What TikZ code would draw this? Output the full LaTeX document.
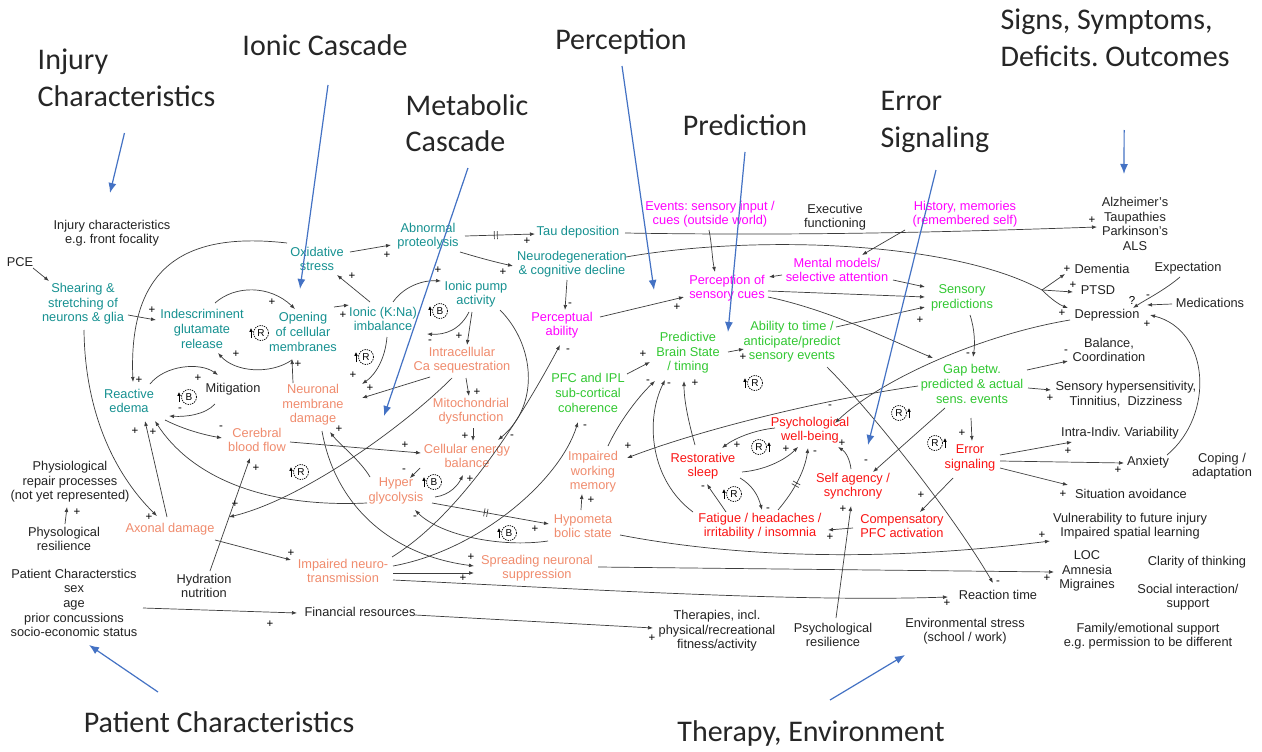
\documentclass[tikz,border=0pt]{standalone}
\usepackage{fontspec}
\setmainfont{Liberation Sans}
\newfontfamily\ttlfont{Carlito}
\usetikzlibrary{calc,arrows.meta,decorations.markings}
\definecolor{tlc}{RGB}{22,145,145}
\definecolor{sac}{RGB}{240,140,110}
\definecolor{mgc}{RGB}{255,0,255}
\definecolor{grc}{RGB}{50,200,50}
\definecolor{rdc}{RGB}{250,20,20}
\definecolor{txc}{RGB}{35,35,35}
\definecolor{lkc}{RGB}{60,60,60}
\definecolor{blc}{RGB}{68,114,196}
\newcounter{polc}
\newcommand\pol[3]{\stepcounter{polc}\node[polsign] (pol\number\value{polc}) at (#1,#2) {#3};}
\newcommand\lpsym[5]{\node[lpc] (#1) at (#2,#3) {#4};
  \draw[lpa] ($(#1)+(#5,5)$) -- ($(#1)+(#5,-5)$);}
\tikzset{
 nd/.style={font=\fontsize{12.8}{14.6}\selectfont, align=center, inner sep=1.5pt, text=txc},
 ndT/.style={nd,text=tlc}, ndS/.style={nd,text=sac}, ndM/.style={nd,text=mgc},
 ndG/.style={nd,text=grc}, ndR/.style={nd,text=rdc},
 arr/.style={draw=lkc, line width=0.7pt, -{Latex[length=5pt,width=3.8pt]}},
 ln/.style={draw=lkc, line width=0.7pt},
 polsign/.style={font=\fontsize{11.5}{11.5}\selectfont, inner sep=0pt, text=black},
 ttl/.style={font=\ttlfont\fontsize{30}{36.5}\selectfont, inner sep=1.5pt, text=black!85},
 barr/.style={draw=blc, line width=1.2pt, -{Latex[length=10pt,width=8pt]}},
 lpc/.style={circle, draw=black, dash pattern=on 1.4pt off 1pt, line width=0.7pt, minimum size=15pt, inner sep=0pt, font=\fontsize{10}{10}\selectfont},
 lpa/.style={draw=black, line width=0.9pt, -{Latex[length=3.8pt,width=3.8pt]}},
 dly/.style={postaction={decorate, decoration={markings, mark=at position #1 with {\draw[lkc, line width=0.7pt,-] (-1.5pt,-4pt)--(-1.5pt,4pt) (1.5pt,-4pt)--(1.5pt,4pt);}}}},
}
\begin{document}
\frenchspacing
\begin{tikzpicture}[x=1pt,y=-1pt]
\useasboundingbox (0,0) rectangle (1262,752);
\fill[white] (0,0) rectangle (1262,752);
% titles
\node[ttl, anchor=west, align=left] (tinj) at (36,78) {Injury\\Characteristics};
\node[ttl] (tion) at (325,45) {Ionic Cascade};
\node[ttl, anchor=west, align=left] (tmet) at (404,123) {Metabolic\\Cascade};
\node[ttl] (tper) at (621,42) {Perception};
\node[ttl] (tpred) at (745,125) {Prediction};
\node[ttl, anchor=west, align=left] (terr) at (879,122) {Error\\Signaling};
\node[ttl, anchor=west, align=left] (tsig) at (999,38) {Signs, Symptoms,\\Deficits. Outcomes};
\node[ttl] (tpat) at (219,722) {Patient Characteristics};
\node[ttl] (tthe) at (811,733) {Therapy, Environment};
% black nodes
\node[nd] (injc) at (112,233) {Injury characteristics\\e.g. front focality};
\node[nd] (pce) at (20,262) {PCE};
\node[nd] (mitig) at (233,389) {Mitigation};
\node[nd] (phrep) at (70,482) {Physiological\\repair processes\\(not yet represented)};
\node[nd] (phres) at (64,539) {Physological\\resilience};
\node[nd] (patc) at (74,603) {Patient Characterstics\\sex\\age\\prior concussions\\socio-economic status};
\node[nd] (hydr) at (204,586) {Hydration\\nutrition};
\node[nd] (finr) at (360,612) {Financial resources};
\node[nd] (ther) at (717,631) {Therapies, incl.\\physical/recreational\\fitness/activity};
\node[nd] (psres) at (833,635) {Psychological\\resilience};
\node[nd] (envs) at (965,631) {Environmental stress\\(school / work)};
\node[nd] (react) at (998,595) {Reaction time};
\node[nd] (execf) at (835,217) {Executive\\functioning};
\node[nd] (alz) at (1135,224) {Alzheimer's\\Taupathies\\Parkinson's\\ALS};
\node[nd] (dem) at (1102,269) {Dementia};
\node[nd] (ptsd) at (1098,290) {PTSD};
\node[nd] (depr) at (1107,315) {Depression};
\node[nd] (expc) at (1188,268) {Expectation};
\node[nd] (medi) at (1210,303) {Medications};
\node[nd] (bal) at (1109,350) {Balance,\\Coordination};
\node[nd] (senh) at (1126,394) {Sensory hypersensitivity,\\Tinnitius,\ \ Dizziness};
\node[nd] (intra) at (1120,433) {Intra-Indiv. Variability};
\node[nd] (anx) at (1148,462) {Anxiety};
\node[nd] (sitav) at (1131,494) {Situation avoidance};
\node[nd] (coping) at (1222,466) {Coping /\\adaptation};
\node[nd] (vuln) at (1130,526) {Vulnerability to future injury\\Impaired spatial learning};
\node[nd] (loc) at (1087,571) {LOC\\Amnesia\\Migraines};
\node[nd] (clar) at (1197,562) {Clarity of thinking};
\node[nd] (soc) at (1188,597) {Social interaction/\\support};
\node[nd] (fam) at (1148,636) {Family/emotional support\\e.g. permission to be different};
% teal
\node[ndT] (shear) at (83,304) {Shearing \&\\stretching of\\neurons \& glia};
\node[ndT] (indis) at (202,329) {Indescriminent\\glutamate\\release};
\node[ndT] (openc) at (303,332) {Opening\\of cellular\\membranes};
\node[ndT] (oxid) at (317,259) {Oxidative\\stress};
\node[ndT] (abnp) at (428,236) {Abnormal\\proteolysis};
\node[ndT] (tau) at (578,232) {Tau deposition};
\node[ndT] (neurod) at (572,264) {Neurodegeneration\\\& cognitive decline};
\node[ndT] (ionic) at (383,319) {Ionic (K:Na)\\imbalance};
\node[ndT] (ipump) at (476,294) {Ionic pump\\activity};
\node[ndT] (redema) at (129,401) {Reactive\\edema};
% salmon
\node[ndS] (nmd) at (313,405) {Neuronal\\membrane\\damage};
\node[ndS] (caseq) at (462,360) {Intracellular\\Ca sequestration};
\node[ndS] (mito) at (471,411) {Mitochondrial\\dysfunction};
\node[ndS] (cbf) at (257,440) {Cerebral\\blood flow};
\node[ndS] (ceb) at (467,456) {Cellular energy\\balance};
\node[ndS] (hyper) at (396,491) {Hyper\\glycolysis};
\node[ndS] (axon) at (170,529) {Axonal damage};
\node[ndS] (imptr) at (343,571) {Impaired neuro-\\transmission};
\node[ndS] (spread) at (537,568) {Spreading neuronal\\suppression};
\node[ndS] (hypom) at (583,526) {Hypometa\\bolic state};
\node[ndS] (iwm) at (593,472) {Impaired\\working\\memory};
% magenta
\node[ndM] (perca) at (562,325) {Perceptual\\ability};
\node[ndM] (events) at (710,214) {Events: sensory input /\\cues (outside world)};
\node[ndM] (percs) at (727,288) {Perception of\\sensory cues};
\node[ndM] (mental) at (837,270) {Mental models/\\selective attention};
\node[ndM] (hist) at (965,214) {History, memories\\(remembered self)};
% green
\node[ndG] (pfc) at (588,393) {PFC and IPL\\sub-cortical\\coherence};
\node[ndG] (pbs) at (688,353) {Predictive\\Brain State\\/ timing};
\node[ndG] (abil) at (792,342) {Ability to time /\\anticipate/predict\\sensory events};
\node[ndG] (sensp) at (962,298) {Sensory\\predictions};
\node[ndG] (gap) at (972,384) {Gap betw.\\predicted \& actual\\sens. events};
% red
\node[ndR] (psyw) at (810,430) {Psychological\\well-being};
\node[ndR] (rsleep) at (703,466) {Restorative\\sleep};
\node[ndR] (fatig) at (760,526) {Fatigue / headaches /\\irritability / insomnia};
\node[ndR] (selfa) at (853,486) {Self agency /\\synchrony};
\node[ndR] (errs) at (970,458) {Error\\signaling};
\node[ndR] (comp) at (902,526) {Compensatory\\PFC activation};
% coordinates
\coordinate (hydmid) at (229,517);
\coordinate (split) at (1042,290);
% links
\draw[arr] ($(pce)+(13,6)$) -- ($(shear)+(-34,-23)$);
\draw[arr] ($(shear)+(45,11)$) -- ($(indis)+(-46,-9)$);
\draw[arr] ($(indis)+(13,-26)$) .. controls (235,285) and (270,285) .. ($(openc)+(-8,-23)$);
\draw[arr] ($(openc)+(-11,28)$) .. controls (270,375) and (235,372) .. ($(indis)+(16,24)$);
\draw[arr] ($(oxid)+(-30,-16)$) .. controls (190,232) and (128,262) .. ($(redema)+(4,-19)$);
\draw[arr] ($(redema)+(21,-17)$) .. controls (165,365) and (200,362) .. ($(mitig)+(-15,-14)$);
\draw[arr] ($(mitig)+(-18,15)$) .. controls (205,415) and (185,417) .. ($(redema)+(40,15)$);
\draw[arr] ($(redema)+(36,19)$) .. controls (185,430) and (205,435) .. ($(cbf)+(-35,-2)$);
\draw[arr] ($(shear)+(1,26)$) .. controls (85,420) and (120,480) .. ($(axon)+(-13,-13)$);
\draw[arr] ($(axon)+(-3,-12)$) -- ($(redema)+(16,20)$);
\draw[arr] ($(hyper)+(-29,12)$) .. controls (260,508) and (190,475) .. ($(redema)+(26,20)$);
\draw[arr] ($(hydr)+(6,-15)$) -- ($(cbf)+(-7,18)$);
\draw[arr] ($(caseq)+(-10,18)$) .. controls (400,430) and (300,500) .. (hydmid);
\draw[arr] ($(oxid)+(33,-7)$) -- ($(abnp)+(-37,9)$);
\draw[arr, dly=0.44] ($(abnp)+(37,0)$) -- ($(tau)+(-43,2)$);
\draw[arr] ($(abnp)+(32,16)$) .. controls (480,258) and (495,262) .. ($(neurod)+(-59,2)$);
\draw[arr] ($(openc)+(31,-25)$) -- ($(ionic)+(-34,-14)$);
\draw[arr] ($(ionic)+(-13,-17)$) -- ($(oxid)+(20,16)$);
\draw[arr] ($(ionic)+(10,-17)$) .. controls (405,285) and (425,280) .. ($(ipump)+(-35,-13)$);
\draw[arr] ($(ipump)+(-7,18)$) .. controls (460,330) and (445,335) .. ($(ionic)+(44,15)$);
\draw[arr] ($(ipump)+(-4,18)$) -- ($(caseq)+(5,-15)$);
\draw[arr] ($(ipump)+(24,16)$) .. controls (535,345) and (540,405) .. ($(ceb)+(31,-16)$);
\draw[arr] ($(ionic)+(4,18)$) .. controls (385,360) and (375,375) .. ($(nmd)+(49,-21)$);
\draw[arr] ($(caseq)+(-32,17)$) -- ($(nmd)+(49,-7)$);
\draw[arr] ($(nmd)+(-20,-22)$) -- ($(openc)+(-11,27)$);
\draw[arr] ($(caseq)+(4,18)$) -- ($(mito)+(-2,-15)$);
\draw[arr] ($(mito)+(2,17)$) -- ($(ceb)+(6,-15)$);
\draw[arr] ($(cbf)+(33,2)$) -- ($(ceb)+(-46,-3)$);
\draw[arr] ($(ceb)+(-47,12)$) -- ($(hyper)+(14,-13)$);
\draw[arr] ($(hyper)+(39,6)$) .. controls (450,495) and (458,485) .. ($(ceb)+(-4,19)$);
\draw[arr] ($(hyper)+(-26,-14)$) .. controls (360,460) and (340,445) .. ($(nmd)+(17,27)$);
\draw[arr] ($(nmd)+(9,26)$) .. controls (335,505) and (390,555) .. ($(spread)+(-63,-2)$);
\draw[arr, dly=0.46] ($(hyper)+(36,12)$) -- ($(hypom)+(-34,-2)$);
\draw[arr] ($(hypom)+(-35,15)$) .. controls (500,548) and (440,535) .. ($(hyper)+(19,19)$);
\draw[arr] ($(axon)+(45,11)$) -- ($(imptr)+(-52,-11)$);
\draw[arr] ($(imptr)+(50,2)$) -- ($(spread)+(-63,5)$);
\draw[arr] ($(imptr)+(49,-14)$) .. controls (460,515) and (520,420) .. ($(perca)+(-2,20)$);
\draw[arr] ($(imptr)+(50,-5)$) .. controls (480,550) and (560,480) .. ($(pfc)+(-10,29)$);
\draw[arr] ($(imptr)+(50,9)$) .. controls (600,590) and (800,602) .. ($(react)+(-50,2)$);
\draw[arr] ($(spread)+(61,-1)$) -- ($(loc)+(-33,1)$);
\draw[arr] ($(hypom)+(37,9)$) .. controls (750,560) and (900,560) .. ($(vuln)+(-80,15)$);
\draw[arr] ($(patc)+(69,5)$) -- ($(finr)+(-63,1)$);
\draw[arr] ($(finr)+(55,3)$) -- ($(ther)+(-64,-3)$);
\draw[arr] ($(phres)+(1,-15)$) -- ($(phrep)+(-3,25)$);
\draw[arr] ($(hypom)+(-2,-16)$) -- ($(iwm)+(-11,22)$);
\draw[arr] ($(neurod)+(-5,16)$) -- ($(perca)+(3,-15)$);
\draw[arr] ($(perca)+(38,-8)$) -- ($(percs)+(-43,9)$);
\draw[arr] ($(events)+(-1,16)$) .. controls (712,245) and (712,258) .. ($(percs)+(-12,-16)$);
\draw[arr] ($(mental)+(-55,5)$) -- ($(percs)+(42,-11)$);
\draw[arr] ($(hist)+(-60,16)$) -- ($(mental)+(25,-15)$);
\draw[arr] ($(mental)+(56,10)$) -- ($(sensp)+(-37,-11)$);
\draw[arr] ($(percs)+(41,3)$) -- ($(sensp)+(-37,-1)$);
\draw[arr] ($(abil)+(44,-15)$) -- ($(sensp)+(-37,9)$);
\draw[arr] ($(percs)+(41,9)$) .. controls (830,310) and (890,340) .. ($(gap)+(-39,-26)$);
\draw[arr] ($(sensp)+(8,17)$) .. controls (975,330) and (975,345) .. ($(gap)+(1,-27)$);
\draw[arr] ($(pfc)+(39,-19)$) -- ($(pbs)+(-38,9)$);
\draw[arr] ($(pbs)+(40,-1)$) -- ($(abil)+(-48,7)$);
\draw[arr] ($(iwm)+(15,-26)$) .. controls (620,420) and (640,395) .. ($(pbs)+(-33,28)$);
\draw[arr] ($(fatig)+(-67,-14)$) .. controls (650,480) and (645,420) .. ($(pbs)+(-23,27)$);
\draw[arr] ($(rsleep)+(-8,-21)$) .. controls (688,420) and (684,400) .. ($(pbs)+(-4,28)$);
\draw[arr] ($(gap)+(-54,2)$) .. controls (820,400) and (700,430) .. ($(iwm)+(34,-14)$);
\draw[arr] ($(depr)+(-37,5)$) .. controls (980,335) and (880,380) .. ($(psyw)+(25,-7)$);
\draw[arr] ($(gap)+(55,-14)$) -- ($(bal)+(-41,11)$);
\draw[arr] ($(gap)+(56,4)$) -- ($(senh)+(-75,-4)$);
\draw[arr] ($(gap)+(-1,34)$) -- ($(errs)+(2,-17)$);
\draw[arr] ($(gap)+(-27,24)$) -- ($(selfa)+(20,-14)$);
\draw[arr] ($(errs)+(30,-3)$) -- ($(intra)+(-48,9)$);
\draw[arr] ($(errs)+(30,3)$) -- ($(anx)+(-24,1)$);
\draw[arr] ($(errs)+(30,10)$) -- ($(sitav)+(-63,-9)$);
\draw[arr] ($(errs)+(-17,20)$) -- ($(comp)+(18,-14)$);
\draw[arr] ($(comp)+(-49,2)$) -- ($(fatig)+(68,4)$);
\draw[arr] ($(psres)+(3,-17)$) -- ($(selfa)+(-2,20)$);
\draw[arr] ($(selfa)+(-2,-17)$) .. controls (850,460) and (846,452) .. ($(psyw)+(28,17)$);
\draw[arr] ($(psyw)+(-35,-2)$) .. controls (755,430) and (735,438) .. ($(rsleep)+(19,-18)$);
\draw[arr] ($(rsleep)+(39,6)$) .. controls (765,470) and (785,460) .. ($(psyw)+(-12,17)$);
\draw[arr] ($(rsleep)+(37,12)$) .. controls (752,485) and (758,495) .. ($(fatig)+(2,-16)$);
\draw[arr] ($(fatig)+(-34,-14)$) .. controls (718,500) and (712,492) .. ($(rsleep)+(4,18)$);
\draw[arr, dly=0.45] ($(fatig)+(18,-16)$) .. controls (795,490) and (805,470) .. ($(psyw)+(-2,18)$);
\draw[arr] ($(abil)+(35,25)$) .. controls (870,410) and (950,510) .. ($(react)+(-5,-12)$);
\draw[arr] ($(tau)+(47,1)$) .. controls (800,236) and (950,232) .. ($(alz)+(-38,3)$);
\draw[ln] ($(neurod)+(54,-7)$) .. controls (750,235) and (950,240) .. (split);
\draw[arr] (split) -- ($(dem)+(-37,5)$);
\draw[arr] (split) -- ($(ptsd)+(-25,2)$);
\draw[arr] (split) .. controls (1052,300) and (1060,305) .. ($(depr)+(-39,-7)$);
\draw[arr] ($(expc)+(-8,9)$) .. controls (1165,290) and (1145,300) .. ($(depr)+(26,-7)$);
\draw[arr] ($(medi)+(-38,1)$) -- ($(depr)+(40,-10)$);
\draw[arr] ($(anx)+(19,-7)$) .. controls (1215,415) and (1210,330) .. ($(depr)+(43,0)$);
% blue title arrows
\coordinate (bt1) at (110,193); \draw[barr] ($(tinj)+(-2,55)$) -- (bt1);
\coordinate (bt2) at (300,289); \draw[barr] ($(tion)+(3,40)$) -- (bt2);
\coordinate (bt3) at (384,416); \draw[barr] ($(tmet)+(1,45)$) -- (bt3);
\coordinate (bt4) at (654,290); \draw[barr] ($(tper)+(1,24)$) -- (bt4);
\coordinate (bt5) at (728,332); \draw[barr] ($(tpred)+(0,27)$) -- (bt5);
\coordinate (bt6) at (868,445); \draw[barr] ($(terr)+(1,48)$) -- (bt6);
\coordinate (bt7) at (1124,174); \draw[barr] ($(tsig)+(9,92)$) -- (bt7);
\coordinate (bt8) at (89,645); \draw[barr] ($(tpat)+(-61,-30)$) -- (bt8);
\coordinate (bt9) at (905,655); \draw[barr] ($(tthe)+(19,-33)$) -- (bt9);
% loops
\lpsym{lp1}{261}{333}{R}{-10}
\lpsym{lp2}{189}{397}{B}{-10}
\lpsym{lp3}{440}{311}{B}{-10}
\lpsym{lp4}{366}{357}{R}{-10}
\lpsym{lp5}{301}{472}{R}{-10}
\lpsym{lp6}{434}{482}{B}{-10}
\lpsym{lp7}{509}{533}{B}{-10}
\lpsym{lp8}{755}{383}{R}{-10}
\lpsym{lp9}{759}{447}{R}{10}
\lpsym{lp10}{734}{494}{R}{-10}
\lpsym{lp11}{899}{413}{R}{10}
\lpsym{lp12}{935}{443}{R}{10}
% polarity signs
\pol{152}{310}{+}\pol{272}{302}{+}\pol{236}{354}{+}\pol{139}{380}{+}
\pol{198}{378}{+}\pol{180}{410}{-}\pol{221}{428}{-}\pol{149}{517}{+}
\pol{135}{431}{+}\pol{153}{432}{+}\pol{256}{468}{+}\pol{235}{504}{+}
\pol{387}{255}{+}\pol{527}{241}{+}\pol{503}{272}{+}\pol{343}{315}{+}
\pol{352}{276}{+}\pol{438}{270}{+}\pol{430}{342}{-}\pol{459}{336}{+}
\pol{512}{437}{-}\pol{353}{375}{+}\pol{370}{388}{+}\pol{298}{364}{+}
\pol{477}{392}{+}\pol{465}{436}{+}\pol{405}{445}{+}\pol{404}{471}{-}
\pol{470}{479}{+}\pol{339}{429}{+}\pol{471}{557}{+}\pol{535}{529}{+}
\pol{415}{518}{-}\pol{291}{553}{+}\pol{463}{578}{+}\pol{568}{351}{-}
\pol{585}{427}{-}\pol{947}{603}{+}\pol{1047}{578}{+}\pol{1042}{535}{+}
\pol{270}{624}{+}\pol{652}{638}{+}\pol{77}{512}{+}\pol{570}{305}{-}
\pol{677}{307}{+}\pol{920}{320}{+}\pol{968}{355}{-}\pol{643}{354}{+}
\pol{743}{357}{+}\pol{648}{382}{-}\pol{669}{385}{-}\pol{695}{383}{+}
\pol{628}{446}{+}\pol{830}{407}{-}\pol{1066}{352}{-}\pol{1050}{398}{+}
\pol{962}{433}{+}\pol{866}{462}{-}\pol{1068}{451}{+}\pol{1118}{470}{+}
\pol{1063}{494}{+}\pol{921}{495}{+}\pol{830}{537}{+}\pol{843}{509}{+}
\pol{842}{443}{+}\pol{737}{445}{+}\pol{786}{449}{+}\pol{768}{510}{-}
\pol{703}{488}{-}\pol{815}{453}{-}\pol{998}{583}{-}\pol{1092}{220}{+}
\pol{1067}{269}{+}\pol{1073}{285}{+}\pol{1062}{313}{+}\pol{1132}{300}{?}
\pol{1148}{297}{-}\pol{1147}{324}{+}\pol{591}{500}{+}
\end{tikzpicture}
\end{document}
